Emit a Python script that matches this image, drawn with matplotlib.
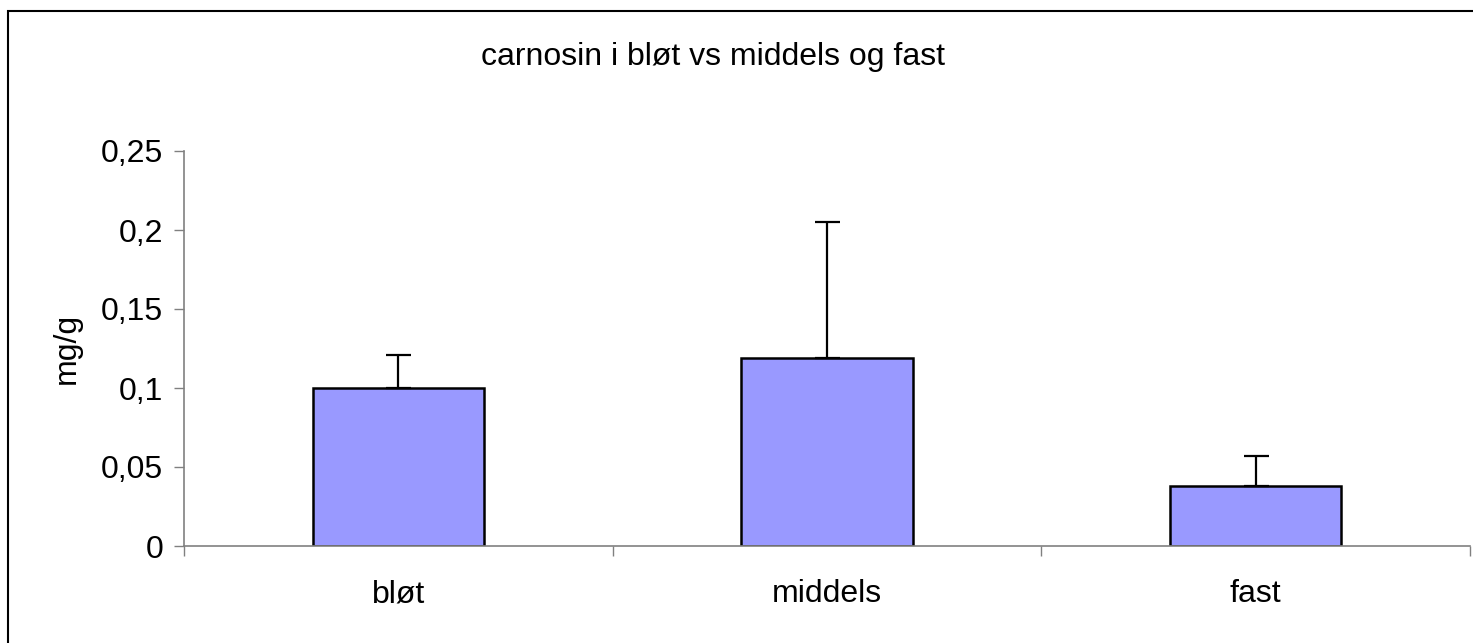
import numpy as np
import matplotlib
matplotlib.use("Agg")
import matplotlib.pyplot as plt
from matplotlib.patches import Rectangle

plt.rcParams['font.family'] = ['Liberation Sans', 'DejaVu Sans']

categories = ['bløt', 'middels', 'fast']
means = [0.100, 0.119, 0.038]
err_up = [0.021, 0.086, 0.019]
yticks = [0, 0.05, 0.1, 0.15, 0.2, 0.25]
ytick_labels = ['0', '0,05', '0,1', '0,15', '0,2', '0,25']

W, H = 1473, 643
fig = plt.figure(figsize=(W / 100, H / 100), dpi=100)

# outer chart border (only left and top visible in the reference)
fig.patches.append(Rectangle((8 / W, -0.1), 1.2, 1.1 - 11 / H,
                             transform=fig.transFigure, fill=False,
                             edgecolor='black', linewidth=1.5))

ax = fig.add_axes([184 / W, 1 - 546 / H, (1470 - 184) / W, (546 - 151) / H])

x = np.arange(len(categories))
ax.bar(x, means, width=0.4, color='#9999FF', edgecolor='black', linewidth=1.8, zorder=2)
ax.errorbar(x, means, yerr=[np.zeros(len(means)), err_up], fmt='none',
            ecolor='black', elinewidth=1.6, capsize=9, capthick=1.6, zorder=3)

ax.set_xlim(-0.5, len(categories) - 0.5)
ax.set_ylim(0, 0.25)
ax.set_yticks(yticks)
ax.set_yticklabels(ytick_labels, fontsize=23)
ax.set_xticks(x)
ax.set_xticklabels(categories, fontsize=23)
ax.set_xticks(np.arange(len(categories) + 1) - 0.5, minor=True)
ax.tick_params(axis='x', which='major', length=0, pad=24)
ax.tick_params(axis='x', which='minor', length=7, width=1, color='#808080')
ax.tick_params(axis='y', length=7, width=1, color='#808080', pad=8)

for s in ['top', 'right']:
    ax.spines[s].set_visible(False)
for s in ['left', 'bottom']:
    ax.spines[s].set_color('#808080')
    ax.spines[s].set_linewidth(1.2)
ax.patch.set_alpha(0)

ax.set_ylabel('mg/g', fontsize=23, labelpad=14)
fig.text(713 / W, 1 - 57 / H, 'carnosin i bløt vs middels og fast',
         ha='center', va='center', fontsize=23)

fig.savefig('out.png', dpi=100)
